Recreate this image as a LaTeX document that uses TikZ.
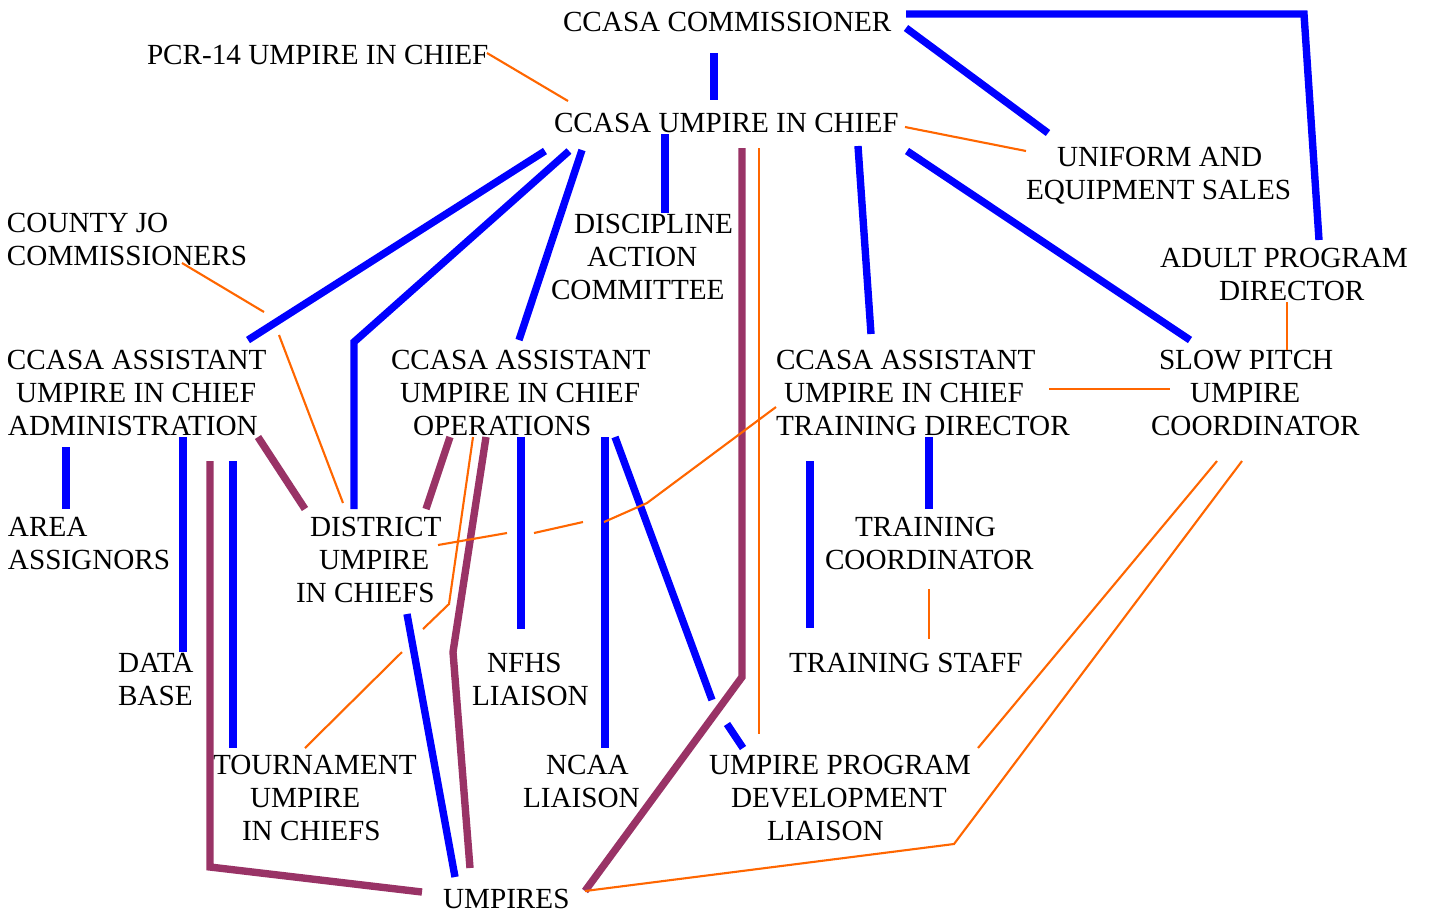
\documentclass[tikz,border=0pt]{standalone}
\usepackage{fontspec}
\setmainfont{Liberation Serif}
\definecolor{lineBlue}{HTML}{0000FF}
\definecolor{linePurple}{HTML}{993366}
\definecolor{lineOrange}{HTML}{FF6600}
\newcommand\ind[1]{\hspace*{\dimexpr0.1mm*#1\relax}}

\begin{document}
\begin{tikzpicture}[
  x=0.01cm, y=-0.01cm,
  every node/.style={font=\fontsize{8.3}{9.47}\selectfont, inner sep=0pt, outer sep=0pt},
  lbl/.style={anchor=north west, align=left},
  blu/.style={lineBlue, line width=2.1pt},
  pur/.style={linePurple, line width=2.1pt},
  org/.style={lineOrange, line width=0.6pt}
]
  \useasboundingbox (0,0) rectangle (1430,914);

  % Top of the chart
  \node (comm) [anchor=west] at (563,22) {CCASA COMMISSIONER};
  \node (pcr) [anchor=west] at (147,55) {PCR-14 UMPIRE IN CHIEF};
  \node (uic) [anchor=west] at (554,123) {CCASA UMPIRE IN CHIEF};
  \node (unif) [lbl] at (1026,147) {\ind{31}UNIFORM AND\\EQUIPMENT SALES};
  \node (county) [lbl] at (7,213) {COUNTY JO\\COMMISSIONERS};
  \node (disc) [lbl] at (551,214) {\ind{23}DISCIPLINE\\\ind{36}ACTION\\COMMITTEE};
  \node (adult) [lbl] at (1160,248) {ADULT PROGRAM\\\ind{59}DIRECTOR};

  % Assistants
  \node (admin) [lbl] at (7,350) {CCASA ASSISTANT\\\ind{9}UMPIRE IN CHIEF\\\ind{1}ADMINISTRATION};
  \node (ops) [lbl] at (391,350) {CCASA ASSISTANT\\\ind{9}UMPIRE IN CHIEF\\\ind{22}OPERATIONS};
  \node (trdir) [lbl] at (776,350) {CCASA ASSISTANT\\\ind{8}UMPIRE IN CHIEF\\TRAINING DIRECTOR};
  \node (slow) [lbl] at (1151,350) {\ind{8}SLOW PITCH\\\ind{39}UMPIRE\\COORDINATOR};

  % Lower levels
  \node (area) [lbl] at (8,517) {AREA\\ASSIGNORS};
  \node (dist) [lbl] at (296,517) {\ind{14}DISTRICT\\\ind{23}UMPIRE\\IN CHIEFS};
  \node (tcoord) [lbl] at (825,517) {\ind{30}TRAINING\\COORDINATOR};
  \node (data) [lbl] at (118,653) {DATA\\BASE};
  \node (nfhs) [lbl] at (472,653) {\ind{15}NFHS\\LIAISON};
  \node (tstaff) [anchor=west] at (789,663) {TRAINING STAFF};
  \node (tourn) [lbl] at (213,755) {TOURNAMENT\\\ind{37}UMPIRE\\\ind{29}IN CHIEFS};
  \node (ncaa) [lbl] at (523,755) {\ind{23}NCAA\\LIAISON};
  \node (updl) [lbl] at (709,755) {UMPIRE PROGRAM\\\ind{22}DEVELOPMENT\\\ind{58}LIAISON};
  \node (umps) [anchor=west] at (443,899) {UMPIRES};

  % Blue lines from the commissioner and umpire in chief
  \draw[blu] (714,53) -- (714,100);
  \draw[blu] (906,14) -- (1304,14) -- (1319,240);
  \draw[blu] (906,28) -- (1048,133);
  \draw[blu] (665,134) -- (665,213);
  \draw[blu] (545,151) -- (248,340);
  \draw[blu] (569,151) -- (354,342) -- (354,509);
  \draw[blu] (582,150) -- (519,340);
  \draw[blu] (858,146) -- (871,334);
  \draw[blu] (907,151) -- (1190,340);

  % Blue lines below the assistants
  \draw[blu] (66,447) -- (66,509);
  \draw[blu] (183,437) -- (183,652);
  \draw[blu] (233,461) -- (233,748);
  \draw[blu] (407,614) -- (455,877);
  \draw[blu] (521,437) -- (521,629);
  \draw[blu] (605,437) -- (605,748);
  \draw[blu] (615,437) -- (712,700);
  \draw[blu] (727,724) -- (743,748);
  \draw[blu] (929,437) -- (929,509);
  \draw[blu] (810,461) -- (810,628);

  % Purple lines
  \draw[pur] (258,437) -- (305,509);
  \draw[pur] (210,461) -- (210,867) -- (422,892);
  \draw[pur] (450,437) -- (426,509);
  \draw[pur] (486,437) -- (453,652) -- (470,868);
  \draw[pur] (742,148) -- (742,677) -- (585,891);

  % Orange lines
  \draw[org] (487,53) -- (568,101);
  \draw[org] (905,127) -- (1026,151);
  \draw[org] (182,263) -- (264,312);
  \draw[org] (279,335) -- (343,503);
  \draw[org] (759,148) -- (759,734);
  \draw[org] (1287,302) -- (1287,350);
  \draw[org] (1049,389) -- (1170,389);
  \draw[org] (776,407) -- (647,503) -- (604,522);
  \draw[org] (583,522) -- (534,533);
  \draw[org] (507,533) -- (438,545);
  \draw[org] (473,437) -- (449,604) -- (423,629);
  \draw[org] (402,652) -- (305,748);
  \draw[org] (1217,461) -- (978,748);
  \draw[org] (1242,461) -- (954,844) -- (585,891);
  \draw[org] (929,589) -- (929,639);
\end{tikzpicture}
\end{document}
